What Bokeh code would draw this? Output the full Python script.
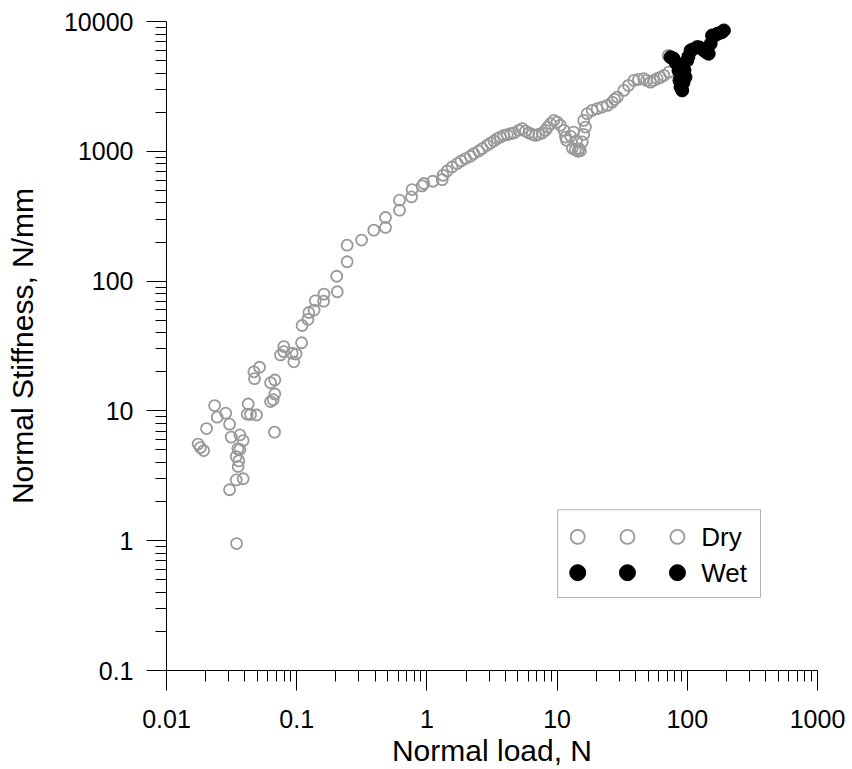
from bokeh.plotting import figure
from bokeh.models import Range1d, FixedTicker, BoxAnnotation, Label
from bokeh.embed import file_html
from bokeh.resources import INLINE

# ---- data ----
dry_load = [0.0175, 0.0182, 0.0193, 0.0203, 0.0234, 0.0245, 0.0285, 0.0305, 0.0314, 0.0366,
            0.0388, 0.0353, 0.0366, 0.0343, 0.0359, 0.0355, 0.0343, 0.0388, 0.0305, 0.0345,
            0.0424, 0.0417, 0.0442, 0.0491, 0.0675, 0.063, 0.066, 0.0679, 0.063, 0.0679,
            0.0469, 0.0518, 0.0474,
            0.0751, 0.0796, 0.0796, 0.0923, 0.095, 0.099, 0.109, 0.110, 0.122, 0.124,
            0.136, 0.139, 0.161, 0.162, 0.205, 0.203, 0.244, 0.244, 0.315, 0.391, 0.481,
            0.481, 0.616, 0.616, 0.762, 0.77, 0.92, 0.947, 1.11, 1.31,
            1.33, 1.43, 1.56, 1.71, 1.83, 1.98, 2.16, 2.29, 2.50, 2.66, 2.90, 3.08, 3.27,
            3.47, 3.67, 3.90, 4.14, 4.39, 4.65, 5.08, 5.40, 5.72, 6.07, 6.44, 6.82, 7.23,
            7.69, 8.15, 8.49, 8.89, 9.44, 10.0, 10.6, 11.3, 11.6,
            11.8, 12.7, 13.4, 14.1, 14.7, 15.1, 15.6, 16.0, 16.5, 16.0, 17.0, 18.6, 20.3,
            22.2, 24.3, 26.5, 27.6, 29.0, 32.5, 35.3, 38.8, 42.2, 46.3, 48.6, 52.1, 55.0,
            58.7, 62.2, 66.1, 72.1, 71.3, 13.1, 13.8, 14.5]
dry_stiff = [5.55, 5.22, 4.95, 7.31, 11.0, 8.95, 9.6, 7.9, 6.28, 6.53,
             5.91, 5.1, 5.05, 4.45, 4.12, 3.73, 2.94, 3.0, 2.47, 0.95,
             11.3, 9.43, 9.4, 9.3, 6.86, 11.8, 12.2, 13.5, 16.5, 17.3,
             20.0, 21.7, 17.7,
             27.0, 31.3, 28.6, 27.8, 23.9, 27.4, 33.5, 45.5, 50.7, 57.3,
             59.8, 70.5, 70.0, 79.4, 82.8, 109, 189, 141, 207, 247, 259,
             309, 352, 420, 445, 507, 541, 565, 588, 605,
             653, 705, 757, 804, 842, 879, 916, 960, 1005, 1049, 1112, 1158, 1200,
             1253, 1288, 1327, 1343, 1368, 1383, 1451, 1495, 1432, 1383, 1351, 1327, 1351,
             1383, 1451, 1538, 1633, 1730, 1680, 1585, 1451, 1288,
             1215, 1304, 1407, 1200, 1050, 1010, 1180, 1351, 1538, 1730, 1950, 2066, 2130,
             2193, 2259, 2393, 2512, 2618, 2946, 3220, 3516, 3580, 3624, 3516, 3412, 3516,
             3624, 3710, 3845, 4074, 5470, 1055, 1030, 1000]

wet_load = [74.3, 78.3, 81.2, 83.6, 85.6, 87.1, 88.7, 88.7, 90.2, 91.4, 93.5, 95.1, 96.8,
            99.8, 102, 106, 110, 119, 124, 134, 140, 146, 151, 155, 159, 170, 174, 185, 191]
wet_stiff = [5310, 5190, 4840, 4729, 4200, 3516, 3730, 3126, 3276, 2946, 3395, 4200, 3730,
             5012, 5380, 5984, 6090, 6346, 6310, 5984, 5780, 5645, 6730, 7800, 7670, 8040,
             8090, 8280, 8530]

x_ticks = [0.01, 0.1, 1, 10, 100, 1000]
x_tick_labels = ["0.01", "0.1", "1", "10", "100", "1000"]
y_ticks = [0.1, 1, 10, 100, 1000, 10000]
y_tick_labels = ["0.1", "1", "10", "100", "1000", "10000"]
series_names = ["Dry", "Wet"]

FONT = "Liberation Sans"
GRAY = "#999999"

p = figure(width=852, height=769, x_axis_type="log", y_axis_type="log",
           x_range=Range1d(0.01, 1000), y_range=Range1d(0.1, 10000),
           output_backend="svg", toolbar_location=None,
           min_border_left=166, min_border_right=35, min_border_top=21,
           min_border_bottom=98)
p.outline_line_color = None
p.xgrid.visible = False
p.ygrid.visible = False
p.background_fill_color = "white"
p.border_fill_color = "white"


def minor(ticks):
    out = []
    for t in ticks[:-1]:
        for m in range(2, 10):
            out.append(t * m)
    return out


p.xaxis.ticker = FixedTicker(ticks=x_ticks, minor_ticks=minor(x_ticks))
p.yaxis.ticker = FixedTicker(ticks=y_ticks, minor_ticks=minor(y_ticks))
p.xaxis.major_label_overrides = {t: s for t, s in zip(x_ticks, x_tick_labels)}
p.yaxis.major_label_overrides = {t: s for t, s in zip(y_ticks, y_tick_labels)}

for ax in (p.xaxis[0], p.yaxis[0]):
    ax.axis_line_color = "black"
    ax.axis_line_width = 1
    ax.major_tick_line_color = "black"
    ax.minor_tick_line_color = "black"
    ax.major_tick_out = 20
    ax.major_tick_in = 0
    ax.minor_tick_out = 11
    ax.minor_tick_in = 0
    ax.major_label_text_font = FONT
    ax.major_label_text_font_size = "25px"
    ax.major_label_text_color = "black"
    ax.axis_label_text_font = FONT
    ax.axis_label_text_font_size = "30px"
    ax.axis_label_text_font_style = "normal"
    ax.axis_label_text_color = "black"

p.xaxis.axis_label = "Normal load, N"
p.yaxis.axis_label = "Normal Stiffness, N/mm"
p.xaxis.major_label_standoff = 19
p.xaxis.axis_label_standoff = 3
p.yaxis.major_label_standoff = 13
p.yaxis.axis_label_standoff = 22

# data
p.scatter(dry_load, dry_stiff, marker="circle", size=11, fill_color=None,
          line_color=GRAY, line_width=1.8)
p.scatter(wet_load, wet_stiff, marker="circle", size=13, fill_color="black",
          line_color="black", line_width=1)

# legend box (drawn manually to show three markers per entry)
p.add_layout(BoxAnnotation(left=10.1, right=365, top=1.73, bottom=0.365,
                           fill_color="white", fill_alpha=1.0,
                           line_color="black", line_width=1, level="annotation"))
leg_x = [14.4, 34.7, 84.0]
p.scatter(leg_x, [1.07] * 3, marker="circle", size=14, fill_color=None,
          line_color=GRAY, line_width=1.8, level="overlay")
p.scatter(leg_x, [0.567] * 3, marker="circle", size=16, fill_color="black",
          line_color="black", level="overlay")
for yv, name in zip([1.07, 0.567], series_names):
    p.add_layout(Label(x=128, y=yv, text=name, text_font=FONT, text_font_size="26px",
                       text_baseline="middle", text_align="left", text_color="black",
                       level="overlay"))

open("out.html", "w").write(file_html(p, INLINE))
